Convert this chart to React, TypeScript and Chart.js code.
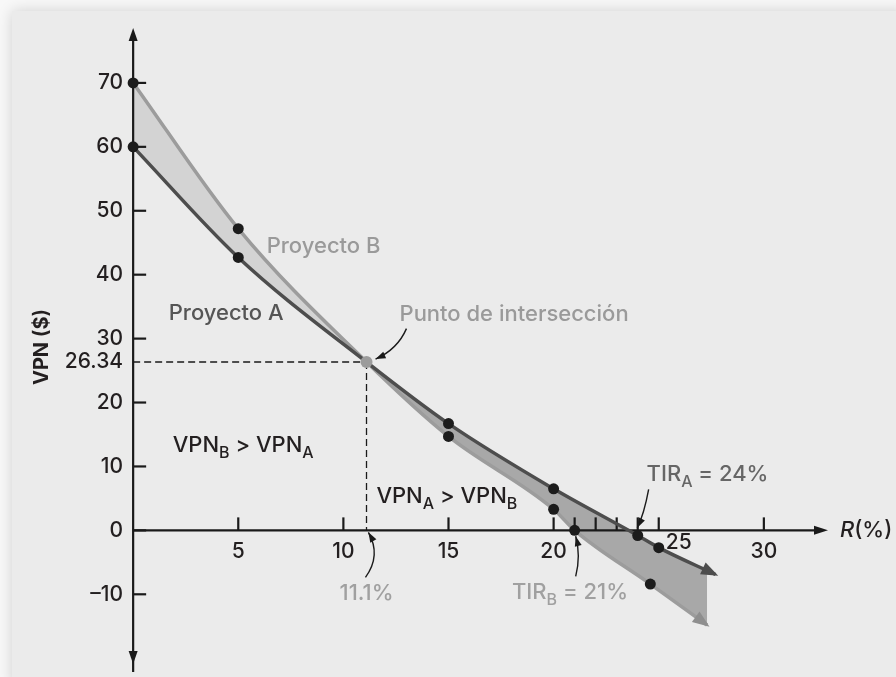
import React, { useEffect, useRef } from 'react';
import { Chart, registerables } from 'chart.js';

Chart.register(...registerables);

// ---- Data ----
const projectARates = [0, 5, 11.1, 15, 20, 24, 25, 27.7];
const projectANPV = [60, 42.7, 26.34, 16.7, 6.5, -0.8, -2.7, -6.9];
const projectBRates = [0, 5, 11.1, 15, 20, 21, 24.6, 27.3];
const projectBNPV = [70, 47.2, 26.34, 14.7, 3.3, 0, -8.4, -14.8];

const crossoverRate = 11.1;
const crossoverNPV = 26.34;

const yTickValues = [70, 60, 50, 40, 30, 20, 10, 0, -10];
const yTickLabels = ['70', '60', '50', '40', '30', '20', '10', '0', '–10'];
const xTickValues = [5, 10, 15, 20, 25, 30];
const xTickLabels = ['5', '10', '15', '20', '25', '30'];
const xMinorTicks = [21, 22, 23, 24];

const FONT = 'Inter, "Liberation Sans", Arial, Helvetica, sans-serif';
const W = '500';

type Part = { t: string; sub?: boolean; italic?: boolean };

export default function App() {
  const ref = useRef<HTMLCanvasElement>(null);

  useEffect(() => {
    const canvas = ref.current;
    if (!canvas) return;

    const markerRadius = (rates: number[]) =>
      rates.map((r, i) => (r === crossoverRate || i === rates.length - 1 ? 0 : 5.5));

    const drawHead = (
      ctx: CanvasRenderingContext2D,
      tipX: number,
      tipY: number,
      fromX: number,
      fromY: number,
      len: number,
      half: number,
      color: string
    ) => {
      const a = Math.atan2(tipY - fromY, tipX - fromX);
      const bx = tipX - len * Math.cos(a);
      const by = tipY - len * Math.sin(a);
      ctx.beginPath();
      ctx.moveTo(tipX, tipY);
      ctx.lineTo(bx + half * Math.sin(a), by - half * Math.cos(a));
      ctx.lineTo(bx - half * Math.sin(a), by + half * Math.cos(a));
      ctx.closePath();
      ctx.fillStyle = color;
      ctx.fill();
    };

    const rich = (
      ctx: CanvasRenderingContext2D,
      x: number,
      y: number,
      parts: Part[],
      size: number,
      color: string,
      weight = W
    ) => {
      let cx = x;
      ctx.textBaseline = 'middle';
      ctx.textAlign = 'left';
      ctx.fillStyle = color;
      for (const p of parts) {
        const s = p.sub ? Math.round(size * 0.74) : size;
        ctx.font = `${p.italic ? 'italic ' : ''}${weight} ${s}px ${FONT}`;
        ctx.fillText(p.t, cx, y + (p.sub ? size * 0.34 : 0));
        cx += ctx.measureText(p.t).width;
      }
    };

    const bgPlugin = {
      id: 'bg',
      beforeDraw(chart: any) {
        const ctx = chart.ctx as CanvasRenderingContext2D;
        ctx.save();
        ctx.fillStyle = '#f8f8f8';
        ctx.fillRect(0, 0, chart.width, chart.height);
        ctx.shadowColor = 'rgba(0,0,0,0.16)';
        ctx.shadowBlur = 14;
        ctx.fillStyle = '#ebebeb';
        ctx.fillRect(12, 11, chart.width, chart.height);
        ctx.restore();
      },
    };

    const axesPlugin = {
      id: 'axes',
      beforeDatasetsDraw(chart: any) {
        const ctx = chart.ctx as CanvasRenderingContext2D;
        const xs = chart.scales.x;
        const ys = chart.scales.y;
        const X = (v: number) => xs.getPixelForValue(v);
        const Y = (v: number) => ys.getPixelForValue(v);
        const x0 = X(0);
        const y0 = Y(0);
        ctx.save();
        ctx.strokeStyle = '#1a1a1a';
        ctx.lineWidth = 2.2;
        const yTop = Y(78.6);
        const yBot = Y(-20.9);
        ctx.beginPath();
        ctx.moveTo(x0, yBot + 8);
        ctx.lineTo(x0, yTop + 8);
        ctx.stroke();
        drawHead(ctx, x0, yTop, x0, yTop + 20, 13, 4.5, '#1a1a1a');
        drawHead(ctx, x0, yBot, x0, yBot - 20, 13, 4.5, '#1a1a1a');
        const xEnd = X(33.05);
        ctx.beginPath();
        ctx.moveTo(x0, y0);
        ctx.lineTo(xEnd - 8, y0);
        ctx.stroke();
        drawHead(ctx, xEnd, y0, xEnd - 20, y0, 14, 4.5, '#1a1a1a');
        for (const v of yTickValues) {
          ctx.beginPath();
          ctx.moveTo(x0, Y(v));
          ctx.lineTo(x0 + 13, Y(v));
          ctx.stroke();
        }
        for (const v of [...xTickValues, ...xMinorTicks]) {
          ctx.beginPath();
          ctx.moveTo(X(v), y0);
          ctx.lineTo(X(v), y0 - 13);
          ctx.stroke();
        }
        ctx.lineWidth = 1.3;
        ctx.setLineDash([7, 4]);
        ctx.beginPath();
        ctx.moveTo(x0, Y(crossoverNPV));
        ctx.lineTo(X(crossoverRate), Y(crossoverNPV));
        ctx.moveTo(X(crossoverRate), Y(crossoverNPV));
        ctx.lineTo(X(crossoverRate), y0);
        ctx.stroke();
        ctx.restore();
      },
    };

    const arrowPlugin = {
      id: 'lineArrows',
      afterDatasetsDraw(chart: any) {
        const ctx = chart.ctx as CanvasRenderingContext2D;
        const colors = ['#4d4d4d', '#8e8e8e'];
        [0, 1].forEach((i) => {
          const pts = chart.getDatasetMeta(i).data;
          const last = pts[pts.length - 1];
          const prev = pts[pts.length - 2];
          const fx = last.cp1x !== undefined ? last.cp1x : prev.x;
          const fy = last.cp1y !== undefined ? last.cp1y : prev.y;
          const a = Math.atan2(last.y - fy, last.x - fx);
          drawHead(ctx, last.x + 3 * Math.cos(a), last.y + 3 * Math.sin(a), fx, fy, 17, 6.5, colors[i]);
        });
      },
    };

    const textPlugin = {
      id: 'texts',
      afterDraw(chart: any) {
        const ctx = chart.ctx as CanvasRenderingContext2D;
        const xs = chart.scales.x;
        const ys = chart.scales.y;
        const X = (v: number) => xs.getPixelForValue(v);
        const Y = (v: number) => ys.getPixelForValue(v);
        const x0 = X(0);
        const y0 = Y(0);
        ctx.save();
        ctx.font = `${W} 21px ${FONT}`;
        ctx.fillStyle = '#231f20';
        ctx.textAlign = 'right';
        ctx.textBaseline = 'middle';
        yTickValues.forEach((v, i) => ctx.fillText(yTickLabels[i], x0 - 10, Y(v)));
        ctx.fillText(String(crossoverNPV), x0 - 10, Y(crossoverNPV));
        ctx.textAlign = 'center';
        xTickValues.forEach((v, i) => {
          if (v === 25) ctx.fillText(xTickLabels[i], X(v) + 20, y0 + 12);
          else ctx.fillText(xTickLabels[i], X(v), y0 + 21);
        });
        ctx.save();
        ctx.translate(42, 347);
        ctx.rotate(-Math.PI / 2);
        ctx.font = `bold 20px ${FONT}`;
        ctx.textAlign = 'center';
        ctx.fillText('VPN ($)', 0, 0);
        ctx.restore();
        rich(ctx, X(33.05) + 12, y0, [{ t: 'R', italic: true }, { t: '(%)' }], 22, '#231f20');

        rich(ctx, X(6.35), Y(44.5), [{ t: 'Proyecto B' }], 22, '#9a9a9a');
        rich(ctx, X(1.69), Y(33.9), [{ t: 'Proyecto A' }], 22, '#555555');
        rich(ctx, X(12.67), Y(33.75), [{ t: 'Punto de intersección' }], 22, '#9a9a9a');
        rich(
          ctx,
          X(1.88),
          Y(13.3),
          [{ t: 'VPN' }, { t: 'B', sub: true }, { t: ' > ' }, { t: 'VPN' }, { t: 'A', sub: true }],
          22,
          '#231f20'
        );
        rich(
          ctx,
          X(11.57),
          Y(5.3),
          [{ t: 'VPN' }, { t: 'A', sub: true }, { t: ' > ' }, { t: 'VPN' }, { t: 'B', sub: true }],
          22,
          '#231f20'
        );
        rich(ctx, X(9.82), Y(-9.8), [{ t: '11.1%' }], 22, '#a0a0a0');
        rich(ctx, X(24.42), Y(8.75), [{ t: 'TIR' }, { t: 'A', sub: true }, { t: ' = 24%' }], 22, '#666666');
        rich(ctx, X(18.02), Y(-9.7), [{ t: 'TIR' }, { t: 'B', sub: true }, { t: ' = 21%' }], 22, '#a0a0a0');

        const curve = (s: number[], c: number[], e: number[]) => {
          const sx = X(s[0]), sy = Y(s[1]), cx = X(c[0]), cy = Y(c[1]), ex = X(e[0]), ey = Y(e[1]);
          ctx.strokeStyle = '#1a1a1a';
          ctx.lineWidth = 1.4;
          ctx.beginPath();
          ctx.moveTo(sx, sy);
          ctx.quadraticCurveTo(cx, cy, ex, ey);
          ctx.stroke();
          drawHead(ctx, ex, ey, cx, cy, 10, 3.5, '#1a1a1a');
        };
        curve([13.0, 31.56], [12.57, 28.3], [11.53, 26.8]);
        curve([11.05, -7.34], [11.81, -3.9], [11.19, -0.3]);
        curve([24.52, 6.4], [24.3, 2.5], [23.98, 0.4]);
        curve([21.05, -7.2], [21.3, -4.0], [21.05, -0.9]);
        ctx.restore();
      },
    };

    const chart = new Chart(canvas, {
      type: 'line',
      data: {
        datasets: [
          {
            label: 'Proyecto A',
            data: projectARates.map((x, i) => ({ x, y: projectANPV[i] })),
            borderColor: '#4d4d4d',
            borderWidth: 3.5,
            cubicInterpolationMode: 'monotone',
            pointRadius: markerRadius(projectARates),
            pointBackgroundColor: '#1c1c1c',
            pointBorderWidth: 0,
            fill: false,
          },
          {
            label: 'Proyecto B',
            data: projectBRates.map((x, i) => ({ x, y: projectBNPV[i] })),
            borderColor: '#9c9c9c',
            borderWidth: 3.5,
            cubicInterpolationMode: 'monotone',
            pointRadius: markerRadius(projectBRates),
            pointBackgroundColor: '#1c1c1c',
            pointBorderWidth: 0,
            fill: { target: 0, above: '#d3d3d3', below: '#a8a8a8' },
          },
          {
            label: 'Punto de intersección',
            data: [{ x: crossoverRate, y: crossoverNPV }],
            showLine: false,
            pointRadius: 6,
            pointBackgroundColor: '#9c9c9c',
            pointBorderWidth: 0,
            order: -1,
          },
        ],
      } as any,
      options: {
        animation: false,
        responsive: false,
        maintainAspectRatio: false,
        events: [],
        layout: { padding: { left: 7, right: 4, top: 19, bottom: 5 } },
        scales: {
          x: { type: 'linear', min: -6, max: 36, display: false },
          y: { type: 'linear', min: -22, max: 80, display: false },
        },
        plugins: {
          legend: { display: false },
          tooltip: { enabled: false },
          filler: { drawTime: 'beforeDatasetsDraw' },
        },
      } as any,
      plugins: [bgPlugin, axesPlugin, arrowPlugin, textPlugin],
    });
    return () => chart.destroy();
  }, []);

  return (
    <div style={{ position: 'fixed', left: 0, top: 0, width: 896, height: 677 }}>
      <canvas ref={ref} width={896} height={677} style={{ display: 'block', width: 896, height: 677 }} />
    </div>
  );
}
